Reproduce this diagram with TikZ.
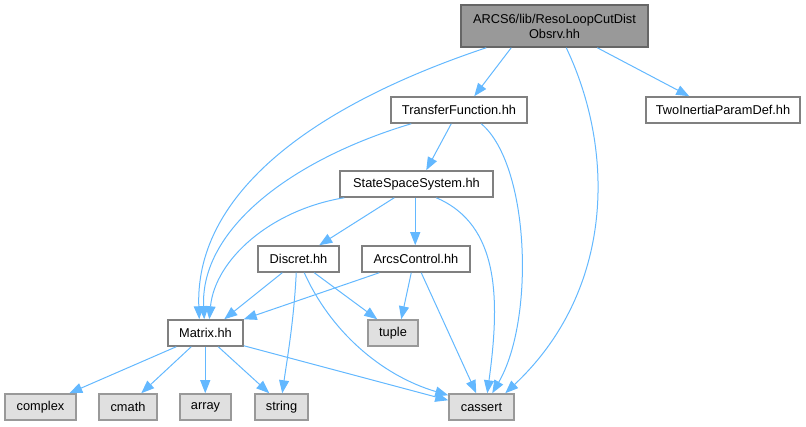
\documentclass[tikz,border=0pt]{standalone}
\usepackage{fontspec}
\setmainfont{Liberation Sans}
\usetikzlibrary{arrows.meta}
\definecolor{edgec}{HTML}{63B8FF}
\definecolor{wborder}{HTML}{808080}
\definecolor{gfill}{HTML}{E0E0E0}
\definecolor{gborder}{HTML}{999999}
\definecolor{tfill}{HTML}{999999}
\definecolor{tborder}{HTML}{666666}
\tikzset{
  box/.style={draw=wborder, fill=white, line width=1.5pt, minimum height=26pt, inner sep=0pt,
    font=\fontsize{12.8}{15}\selectfont},
  sysbox/.style={box, draw=gborder, fill=gfill},
  topbox/.style={box, draw=tborder, fill=tfill, minimum height=42pt, align=center},
  dep/.style={draw=edgec, line width=1pt, -{Triangle[length=13pt,width=10pt]}, edgec},
}
\begin{document}
\begin{tikzpicture}[x=1pt,y=-1pt]
\useasboundingbox (0,0) rectangle (806,427);
% nodes
\node[topbox, minimum width=187pt] (top) at (554.5,26) {ARCS6/lib/ResoLoopCutDist\\Obsrv.hh};
\node[box, minimum width=136pt] (tf) at (459,110) {TransferFunction.hh};
\node[box, minimum width=154pt] (two) at (723,110) {TwoInertiaParamDef.hh};
\node[box, minimum width=153pt] (ss) at (416.5,184) {StateSpaceSystem.hh};
\node[box, minimum width=81pt] (dis) at (298.5,259) {Discret.hh};
\node[box, minimum width=108pt] (arcs) at (416,259) {ArcsControl.hh};
\node[box, minimum width=75pt] (mat) at (205.5,333) {Matrix.hh};
\node[sysbox, minimum width=50pt] (tuple) at (393,333) {tuple};
\node[sysbox, minimum width=71pt] (complex) at (40.5,407) {complex};
\node[sysbox, minimum width=58pt] (cmath) at (128,407) {cmath};
\node[sysbox, minimum width=51pt] (array) at (205.5,407) {array};
\node[sysbox, minimum width=53pt] (string) at (281.5,407) {string};
\node[sysbox, minimum width=65pt] (cassert) at (481.5,407) {cassert};
% edges from top
\draw[dep] ([xshift=26pt]top.south west) .. controls (300,110) and (195,200) .. ([xshift=32pt]mat.north west);
\draw[dep] ([xshift=51pt]top.south west) -- ([xshift=84pt]tf.north west);
\draw[dep] ([xshift=106pt]top.south west) .. controls (615,150) and (615,290) .. ([xshift=57pt]cassert.north west);
\draw[dep] ([xshift=137pt]top.south west) -- ([xshift=44pt]two.north west);
% edges from TransferFunction
\draw[dep] ([xshift=61pt]tf.south west) -- ([xshift=87pt]ss.north west);
\draw[dep] ([xshift=21pt]tf.south west) .. controls (290,160) and (200,230) .. ([xshift=37pt]mat.north west);
\draw[dep] ([xshift=91pt]tf.south west) .. controls (530,165) and (535,320) .. ([xshift=44pt]cassert.north west);
% edges from StateSpaceSystem
\draw[dep] ([xshift=5pt]ss.south west) .. controls (270,210) and (215,260) .. ([xshift=42pt]mat.north west);
\draw[dep] ([xshift=55pt]ss.south west) -- ([xshift=62pt]dis.north west);
\draw[dep] ([xshift=76pt]ss.south west) -- ([xshift=54pt]arcs.north west);
\draw[dep] ([xshift=97pt]ss.south west) .. controls (500,225) and (500,300) .. ([xshift=39pt]cassert.north west);
% edges from Discret
\draw[dep] ([xshift=25pt]dis.south west) -- ([xshift=57pt]mat.north west);
\draw[dep] ([xshift=57pt]dis.south west) -- ([xshift=10pt]tuple.north west);
\draw[dep] ([xshift=39pt]dis.south west) .. controls (294,320) and (287,360) .. ([xshift=28pt]string.north west);
\draw[dep] ([xshift=47pt]dis.south west) .. controls (330,330) and (380,375) .. ([yshift=-2pt]cassert.north west);
% edges from ArcsControl
\draw[dep] ([xshift=18pt]arcs.south west) -- (mat.north east);
\draw[dep] ([xshift=50pt]arcs.south west) -- ([xshift=34pt]tuple.north west);
\draw[dep] ([xshift=60pt]arcs.south west) -- ([xshift=28pt]cassert.north west);
% edges from Matrix
\draw[dep] ([xshift=9pt]mat.south west) -- ([xshift=65pt]complex.north west);
\draw[dep] ([xshift=24pt]mat.south west) -- ([xshift=43pt]cmath.north west);
\draw[dep] ([xshift=38pt]mat.south west) -- ([xshift=26pt]array.north west);
\draw[dep] ([xshift=51pt]mat.south west) -- ([xshift=15pt]string.north west);
\draw[dep] ([yshift=1pt]mat.south east) -- ([yshift=-7pt]cassert.north west);
\end{tikzpicture}
\end{document}
